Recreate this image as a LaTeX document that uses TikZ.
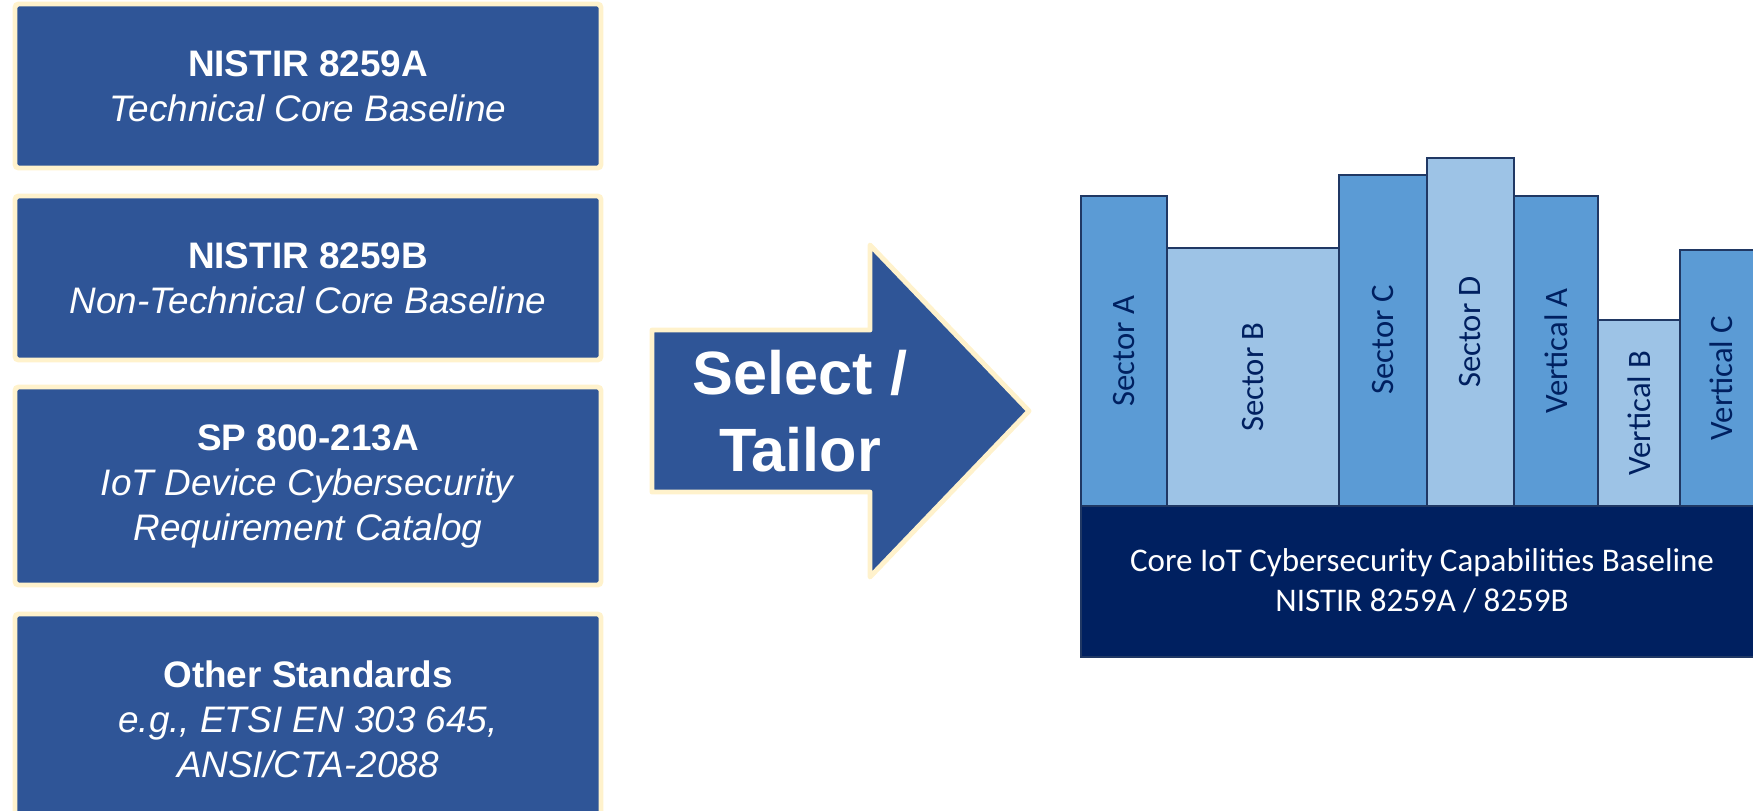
\documentclass[tikz,border=0pt]{standalone}
\usepackage{fontspec}
\setmainfont{Liberation Sans}
\newfontfamily\calibrifont{Carlito}
\usetikzlibrary{positioning}

\definecolor{boxblue}{HTML}{2F5597}
\definecolor{cream}{HTML}{FFF2CC}
\definecolor{midblue}{HTML}{5B9BD5}
\definecolor{paleblue}{HTML}{9DC3E6}
\definecolor{navy}{HTML}{002060}
\definecolor{edgeblue}{HTML}{203864}

\tikzset{
  stdbox/.style={draw=cream, line width=1.4pt, fill=boxblue, rounded corners=1pt,
    text=white, align=center, minimum width=58.6mm, font=\fontsize{10.5}{12.8}\selectfont},
  bar/.style={draw=edgeblue, line width=0.5pt},
  barlabel/.style={rotate=90, text=navy, font=\calibrifont\fontsize{9.3}{11}\selectfont},
}

\begin{document}
\begin{tikzpicture}[x=0.1mm, y=-0.1mm]
        \useasboundingbox (0,0) rectangle (1753,810);
        \clip (0,0) rectangle (1753,810);
        % source documents
        \node[stdbox, minimum height=16.4mm] (irA) at (308,86) {\textbf{NISTIR 8259A}\\\textit{Technical Core Baseline}};
        \node[stdbox, minimum height=16.4mm] (irB) at (308,278) {\textbf{NISTIR 8259B}\\\textit{Non-Technical Core Baseline}};
        \node[stdbox, minimum height=19.8mm] (sp) at (308,486) {\textbf{SP 800-213A}\\\textit{IoT Device Cybersecurity}\\\textit{Requirement Catalog}};
        \node[stdbox, minimum height=21mm] (other) at (308,719) {\textbf{Other Standards}\\\textit{e.g., ETSI EN 303 645,}\\\textit{ANSI/CTA-2088}};
        % big arrow
        \coordinate (tail) at (652,411);
        \coordinate (tip) at (1029,411);
        \draw[draw=cream, line width=1.4pt, fill=boxblue, line join=round]
            (tail |- 0,330) -- (870,330) -- (870,245) -- (tip) -- (870,577) -- (870,492) -- (tail |- 0,492) -- cycle;
        \node[text=white, align=center, font=\bfseries\fontsize{17.4}{21.8}\selectfont] (sel) at (800,411) {Select /\\Tailor};
        % profiles on top of the core
        \draw[bar, fill=midblue] (1081,196) rectangle (1167,506);
        \node[barlabel] (secA) at (1124,351) {Sector A};
        \draw[bar, fill=paleblue] (1167,248) rectangle (1339,506);
        \node[barlabel] (secB) at (1253,377) {Sector B};
        \draw[bar, fill=midblue] (1339,175) rectangle (1427,506);
        \node[barlabel] (secC) at (1383,340) {Sector C};
        \draw[bar, fill=paleblue] (1427,158) rectangle (1514,506);
        \node[barlabel] (secD) at (1470,332) {Sector D};
        \draw[bar, fill=midblue] (1514,196) rectangle (1598,506);
        \node[barlabel] (vertA) at (1556,351) {Vertical A};
        \draw[bar, fill=paleblue] (1598,320) rectangle (1680,506);
        \node[barlabel] (vertB) at (1639,413) {Vertical B};
        \draw[bar, fill=midblue] (1680,250) rectangle (1762,506);
        \node[barlabel] (vertC) at (1721,378) {Vertical C};
        % core baseline
        \draw[bar, fill=navy] (1081,506) rectangle (1763,657);
        \node[text=white, align=center, font=\calibrifont\fontsize{9.4}{11.4}\selectfont] (core) at (1422,581) {Core IoT Cybersecurity Capabilities Baseline\\NISTIR 8259A / 8259B};
    \end{tikzpicture}
\end{document}
